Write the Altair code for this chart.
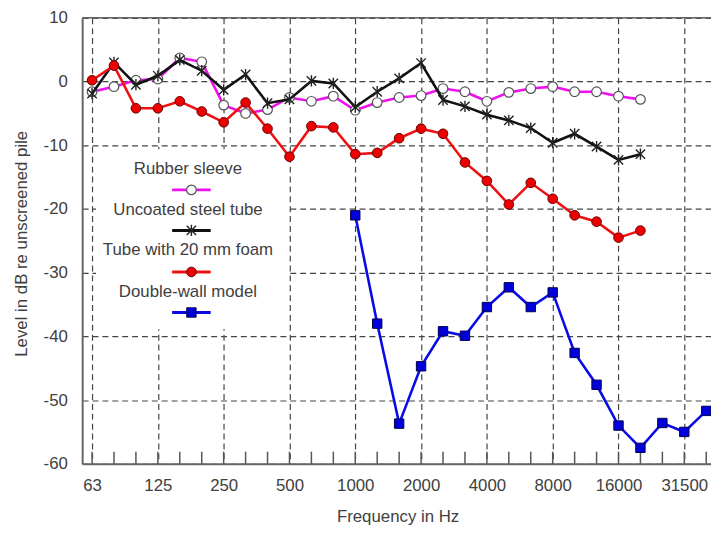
import altair as alt
import pandas as pd

# Third-octave band centre frequencies (x categories, equally spaced)
bands = ["63", "80", "100", "125", "160", "200", "250", "315", "400", "500",
         "630", "800", "1000", "1250", "1600", "2000", "2500", "3150", "4000",
         "5000", "6300", "8000", "10000", "12500", "16000", "20000", "25000",
         "31500", "40000"]
octave_labels = ["63", "125", "250", "500", "1000", "2000", "4000", "8000",
                 "16000", "31500"]

series_names = ["Rubber sleeve", "Uncoated steel tube", "Tube with 20 mm foam",
                "Double-wall model"]

# Values in dB re unscreened pile
rubber = [-1.6, -0.8, 0.2, 0.4, 3.7, 3.1, -3.7, -5.0, -4.4, -2.5,
          -3.1, -2.3, -4.5, -3.3, -2.5, -2.2, -1.1, -1.6, -3.1, -1.7,
          -1.1, -0.8, -1.6, -1.6, -2.3, -2.8]
steel = [-1.9, 3.0, -0.5, 0.9, 3.4, 1.7, -1.3, 1.1, -3.4, -2.8,
         0.1, -0.3, -4.0, -1.6, 0.5, 2.9, -2.9, -3.9, -5.2, -6.1,
         -7.3, -9.6, -8.2, -10.2, -12.3, -11.4]
foam = [0.2, 2.5, -4.2, -4.2, -3.1, -4.7, -6.4, -3.3, -7.4, -11.8,
        -7.0, -7.2, -11.4, -11.2, -8.9, -7.4, -8.2, -12.7, -15.6, -19.3,
        -15.9, -18.4, -21.0, -22.0, -24.5, -23.4]
double_bands = bands[12:]
double = [-21.0, -38.0, -53.7, -44.7, -39.2, -39.9, -35.4, -32.3, -35.4,
          -33.1, -42.6, -47.6, -54.0, -57.5, -53.6, -55.0, -51.7]

y_ticks = [-60, -50, -40, -30, -20, -10, 0, 10]


def frame(freqs, vals):
    return pd.DataFrame({"idx": [bands.index(f) for f in freqs], "val": vals})


df_rubber = frame(bands[:len(rubber)], rubber)
df_steel = frame(bands[:len(steel)], steel)
df_foam = frame(bands[:len(foam)], foam)
df_double = frame(double_bands, double)

FONT = "Liberation Sans"
TXT = "#404040"
FS = 17

label_arr = "[" + ",".join("'%s'" % l for l in octave_labels) + "]"

xscale = alt.Scale(domain=[-0.451, 28.217], nice=False, zero=False)
yscale = alt.Scale(domain=[-60, 10], nice=False, zero=False)

xaxis = alt.Axis(values=[bands.index(l) for l in octave_labels],
                 labelExpr=label_arr + "[round(datum.value/3)]",
                 grid=True, gridDash=[6, 4], gridColor="#444", gridWidth=1.2,
                 ticks=False, tickSize=0, domain=True, domainColor="#666",
                 domainWidth=2, labelFontSize=FS, labelFont=FONT,
                 labelColor=TXT, labelPadding=14, labelFlush=False,
                 labelOverlap=False, title="Frequency in Hz",
                 titleFont=FONT, titleFontSize=FS, titleFontWeight="normal",
                 titleColor=TXT, titleX=319, titleY=53,
                 titleBaseline="middle", titleAlign="center")
yaxis = alt.Axis(values=y_ticks, labelExpr="toString(datum.value)",
                 grid=True, gridDash=[6, 4], gridColor="#444",
                 gridWidth=1.2, ticks=False, tickSize=0, domain=True,
                 domainColor="#666", domainWidth=2, labelFontSize=FS,
                 labelFont=FONT, labelColor=TXT, labelPadding=15,
                 title="Level in dB re unscreened pile", titleFont=FONT,
                 titleFontSize=FS, titleFontWeight="normal", titleColor=TXT,
                 titleX=-61, titleY=228, titleAngle=270,
                 titleBaseline="middle", titleAlign="center")

X = alt.X("idx:Q", scale=xscale, axis=xaxis)
Y = alt.Y("val:Q", scale=yscale, axis=yaxis)

STAR = "M-1,-1L1,1M-1,1L1,-1M0,-1.2L0,1.2"

styles = [
    dict(color="#ee11ee", shape="circle", fill="white", stroke="#555555", size=95, sw=1.2),
    dict(color="#111111", shape=STAR, fill=None, stroke="#222222", size=90, sw=1.4),
    dict(color="#ee1111", shape="circle", fill="#ee0000", stroke="#660000", size=95, sw=1.0),
    dict(color="#0a0ae6", shape="square", fill="#0000dd", stroke="#00004a", size=90, sw=1.0),
]
frames = [df_rubber, df_steel, df_foam, df_double]


def point_mark(st):
    kw = dict(shape=st["shape"], size=st["size"], stroke=st["stroke"],
              strokeWidth=st["sw"], opacity=1)
    if st["fill"] is not None:
        kw.update(filled=True, fill=st["fill"])
    else:
        kw.update(filled=False)
    return alt.MarkDef(type="point", **kw)


layers = []

# minor ticks at every band on the bottom axis
df_ticks = pd.DataFrame({"idx": list(range(len(bands))),
                         "val": [-60] * len(bands), "val2": [-58.1] * len(bands)})
layers.append(alt.Chart(df_ticks).mark_rule(color="#555", strokeWidth=1.5)
              .encode(x=X, y=Y, y2="val2:Q"))

# top border
layers.append(alt.Chart(pd.DataFrame({"val": [10]}))
              .mark_rule(color="#666", strokeWidth=1.5).encode(y=Y))

# legend background
one = pd.DataFrame({"k": [0]})
layers.append(alt.Chart(one).mark_rect(fill="white", opacity=1).encode(
    x=alt.value(14), x2=alt.value(207), y=alt.value(133), y2=alt.value(315)))

for df, st in zip(frames, styles):
    layers.append(alt.Chart(df).mark_line(color=st["color"], strokeWidth=2.6)
                  .encode(x=X, y=Y))
    layers.append(alt.Chart(df, mark=point_mark(st)).encode(x=X, y=Y))

# legend entries: label above, line sample with marker below
text_y = [153, 194, 235, 277]
sym_y = [174, 215, 257, 298]
for name, st, ty, sy in zip(series_names, styles, text_y, sym_y):
    layers.append(alt.Chart(one).mark_text(text=name, font=FONT, fontSize=FS,
                                           color=TXT, align="center",
                                           baseline="middle")
                  .encode(x=alt.value(107), y=alt.value(ty)))
    layers.append(alt.Chart(one).mark_rule(color=st["color"], strokeWidth=3)
                  .encode(x=alt.value(91), x2=alt.value(130), y=alt.value(sy)))
    layers.append(alt.Chart(one, mark=point_mark(st))
                  .encode(x=alt.value(110.5), y=alt.value(sy)))

chart = alt.layer(*layers).properties(
    width=636, height=451,
    autosize=alt.AutoSizeParams(type="none"),
    padding={"left": 75, "top": 7, "right": 0, "bottom": 61},
).configure_view(stroke="transparent").configure(font=FONT)

chart.save("out.html", embed_options={"renderer": "svg", "actions": False})
